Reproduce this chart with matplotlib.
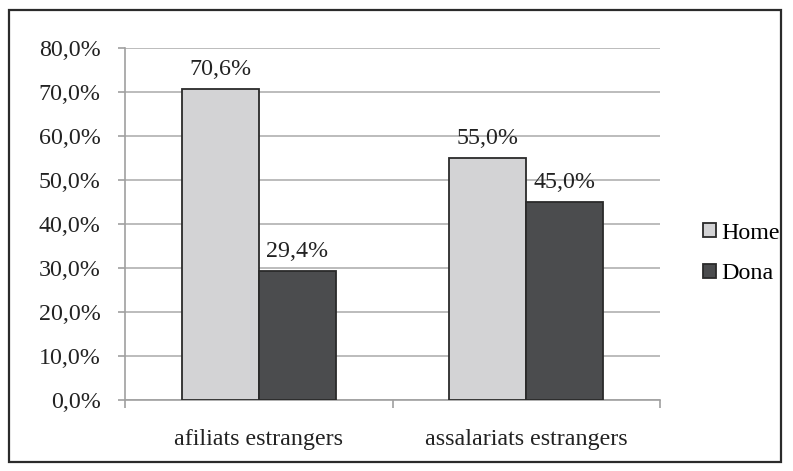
import matplotlib
matplotlib.use("Agg")
import matplotlib.pyplot as plt
from matplotlib.patches import Rectangle
import numpy as np

# dades
categories = ["afiliats estrangers", "assalariats estrangers"]
home = [70.6, 55.0]
dona = [29.4, 45.0]
series_names = ["Home", "Dona"]

plt.rcParams["font.family"] = ["Liberation Serif", "DejaVu Serif"]
FS = 17.3

fig = plt.figure(figsize=(7.93, 4.71), dpi=100)
W, H = 793, 471
ax = fig.add_axes([125 / W, (H - 400) / H, (660 - 125) / W, (400 - 48) / H])

# marc exterior
fig.patches.append(Rectangle((9 / W, 9 / H), (781 - 9) / W, (461 - 9) / H,
                             transform=fig.transFigure, fill=False,
                             edgecolor="#2b2b2b", linewidth=1.6))

x = np.arange(len(categories))
bw = 0.287
c_home = "#d3d3d5"
c_dona = "#4b4c4e"
edge = "#2a2a2a"

b1 = ax.bar(x - bw / 2, home, bw, color=c_home, edgecolor=edge, linewidth=1.3,
            label=series_names[0], zorder=3)
b2 = ax.bar(x + bw / 2, dona, bw, color=c_dona, edgecolor=edge, linewidth=1.3,
            label=series_names[1], zorder=3)

for bars, vals in ((b1, home), (b2, dona)):
    for r, v in zip(bars, vals):
        ax.annotate(f"{v:.1f}%".replace(".", ","),
                    (r.get_x() + r.get_width() / 2, v),
                    xytext=(0, 6.5), textcoords="offset points",
                    ha="center", va="bottom", fontsize=FS, color="#222222")

ax.set_ylim(0, 80)
ax.set_xlim(-0.5, 1.5)
ax.set_yticks(np.arange(0, 81, 10))
ax.set_yticklabels([f"{v:.1f}%".replace(".", ",") for v in np.arange(0, 81, 10)],
                   fontsize=FS, color="#222222")
ax.set_xticks(x)
ax.set_xticklabels(categories, fontsize=FS, color="#222222")
ax.set_xticks([-0.5, 0.5, 1.5], minor=True)
ax.tick_params(axis="x", which="major", length=0, pad=21)
ax.tick_params(axis="x", which="minor", length=6, width=1.2, color="#a0a0a0", direction="out")
ax.tick_params(axis="y", length=5, width=1.2, color="#a0a0a0", pad=12.5)

ax.grid(axis="y", color="#b0b0b0", linewidth=1.2, zorder=0)
ax.set_axisbelow(True)
for s in ("top", "right"):
    ax.spines[s].set_visible(False)
for s in ("left", "bottom"):
    ax.spines[s].set_color("#a0a0a0")
    ax.spines[s].set_linewidth(1.2)

ax.legend(loc="center left", bbox_to_anchor=(1.08, 0.416), frameon=False,
          fontsize=FS, handlelength=0.55, handleheight=0.55, handletextpad=0.2,
          labelspacing=0.82, borderpad=0, borderaxespad=0)

fig.savefig("out.png", dpi=100)
